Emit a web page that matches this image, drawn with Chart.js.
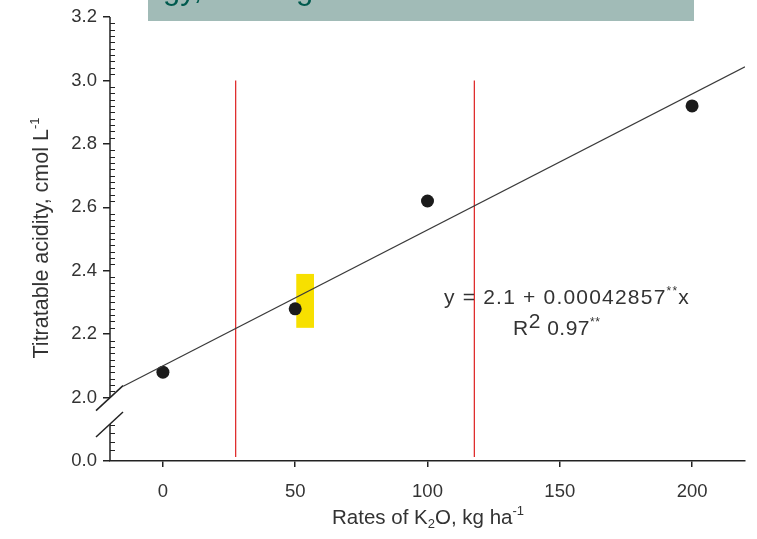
<!DOCTYPE html>
<html>
<head>
<meta charset="utf-8">
<script src="https://cdn.jsdelivr.net/npm/chart.js@4"></script>
<style>
  body { margin: 0; background: #fff; }
  #wrap { width: 757px; height: 539px; position: relative; }
</style>
</head>
<body>
<div id="wrap"><canvas id="acidChart"></canvas></div>
<script>
// data
const rates = [0, 50, 100, 200];              // K2O, kg/ha
const acidity = [2.08, 2.28, 2.62, 2.92];     // cmol/L
const fitX = [-15, 220];                      // regression line ends
const fitY = [2.036, 3.043];
const redLineX = [27.5, 117.7];
const redLineY = [1.813, 3.0];
const highlightX = [50.4, 57.1];
const highlightY = [2.22, 2.39];
const xTicks = [0, 50, 100, 150, 200];
const yTicks = [1.8, 2.0, 2.2, 2.4, 2.6, 2.8, 3.0, 3.2];
const yTickLabels = ['0.0', '2.0', '2.2', '2.4', '2.6', '2.8', '3.0', '3.2'];
const lowerMinorTicks = [1.835, 1.861, 1.887, 1.913];

const FONT = '"Liberation Sans", Arial, sans-serif';
const AXIS = '#222';
const TEXT = '#333';

// draw a run of text pieces: [text, size, dy]
function drawRun(ctx, x, y, parts, align) {
    let total = 0;
    parts.forEach(p => { ctx.font = p[1] + 'px ' + FONT; total += ctx.measureText(p[0]).width; });
    let cx = x;
    if (align === 'center') cx = x - total / 2;
    parts.forEach(p => {
        ctx.font = p[1] + 'px ' + FONT;
        ctx.fillText(p[0], cx, y + p[2]);
        cx += ctx.measureText(p[0]).width;
    });
}

const decor = {
    id: 'decor',
    beforeDraw(chart) {
        const ctx = chart.ctx;
        ctx.save();
        ctx.fillStyle = '#fff';
        ctx.fillRect(0, 0, chart.width, chart.height);
        // slide banner cut off at the top
        ctx.fillStyle = '#a1bbb7';
        ctx.fillRect(148, 0, 546, 21);
        ctx.fillStyle = '#005a4e';
        ctx.font = '31px ' + FONT;
        ctx.textBaseline = 'alphabetic';
        ctx.fillText('gy,', 163, -1);
        ctx.fillText('g', 296, -1);
        ctx.restore();
    },
    beforeDatasetsDraw(chart) {
        const { ctx, scales: { x, y } } = chart;
        ctx.save();
        ctx.fillStyle = '#f7e000';
        const x0 = x.getPixelForValue(highlightX[0]), x1 = x.getPixelForValue(highlightX[1]);
        const y0 = y.getPixelForValue(highlightY[1]), y1 = y.getPixelForValue(highlightY[0]);
        ctx.fillRect(x0, y0, x1 - x0, y1 - y0);
        ctx.restore();
    },
    afterDraw(chart) {
        const { ctx, scales: { x, y } } = chart;
        const ax = x.left;
        ctx.save();
        ctx.strokeStyle = AXIS;
        ctx.lineWidth = 1.5;
        // broken y axis
        const breakTop = y.getPixelForValue(2.0);
        const breakBot = y.getPixelForValue(1.9165);
        ctx.beginPath();
        ctx.moveTo(ax, y.top); ctx.lineTo(ax, breakTop);
        ctx.moveTo(ax, breakBot); ctx.lineTo(ax, y.bottom);
        ctx.stroke();
        // break slashes
        [breakTop, breakBot].forEach(py => {
            ctx.beginPath();
            ctx.moveTo(ax - 14, py + 13);
            ctx.lineTo(ax + 13, py - 12);
            ctx.stroke();
        });
        // inner minor ticks
        ctx.lineWidth = 1.2;
        ctx.beginPath();
        for (let v = 2.02; v < 3.19; v += 0.02) {
            if (Math.abs(v * 5 - Math.round(v * 5)) < 1e-6) continue;
            const py = Math.round(y.getPixelForValue(v)) + 0.5;
            ctx.moveTo(ax, py); ctx.lineTo(ax + 5, py);
        }
        lowerMinorTicks.forEach(v => {
            const py = Math.round(y.getPixelForValue(v)) + 0.5;
            ctx.moveTo(ax, py); ctx.lineTo(ax + 5, py);
        });
        ctx.stroke();

        // equation
        ctx.fillStyle = TEXT;
        ctx.textBaseline = 'alphabetic';
        ctx.letterSpacing = '1.2px';
        drawRun(ctx, 444, 304, [['y = 2.1 + 0.00042857', 21, 0], ['**', 12, -9], ['x', 21, 0]], 'left');
        ctx.letterSpacing = '0.5px';
        drawRun(ctx, 513, 335, [['R', 21, 0], ['2', 21, -7], [' 0.97', 21, 0], ['**', 12, -9]], 'left');
        ctx.letterSpacing = '0px';

        // axis titles
        drawRun(ctx, 428, 524, [['Rates of K', 20.5, 0], ['2', 13, 4], ['O, kg ha', 20.5, 0], ['-1', 13, -9]], 'center');
        ctx.translate(48, 238);
        ctx.rotate(-Math.PI / 2);
        drawRun(ctx, 0, 0, [['Titratable acidity, cmol L', 21.5, 0], ['-1', 13, -9]], 'center');
        ctx.restore();
    }
};

new Chart(document.getElementById('acidChart'), {
    type: 'scatter',
    data: {
        datasets: [
            {
                type: 'line',
                data: fitX.map((v, i) => ({ x: v, y: fitY[i] })),
                borderColor: '#3a3a3a',
                borderWidth: 1.2,
                pointRadius: 0
            },
            ...redLineX.map(rx => ({
                type: 'line',
                data: redLineY.map(ry => ({ x: rx, y: ry })),
                borderColor: '#dd1f1f',
                borderWidth: 1.2,
                pointRadius: 0
            })),
            {
                data: rates.map((v, i) => ({ x: v, y: acidity[i] })),
                backgroundColor: '#1b1b1b',
                borderWidth: 0,
                pointRadius: 6.5
            }
        ]
    },
    options: {
        responsive: true,
        maintainAspectRatio: false,
        animation: false,
        layout: { padding: { left: 0, right: 12, top: 17, bottom: 0 } },
        plugins: { legend: { display: false }, tooltip: { enabled: false } },
        scales: {
            x: {
                type: 'linear',
                min: -20,
                max: 220,
                afterBuildTicks: s => { s.ticks = xTicks.map(v => ({ value: v })); },
                afterFit: s => { s.height = 78; },
                grid: { drawOnChartArea: false, drawTicks: true, tickLength: 6, color: AXIS, lineWidth: 1.5 },
                border: { display: true, color: AXIS, width: 1.5 },
                ticks: { color: TEXT, font: { family: FONT, size: 18.5 }, padding: 14, maxRotation: 0 }
            },
            y: {
                type: 'linear',
                min: 1.8,
                max: 3.2,
                afterBuildTicks: s => { s.ticks = yTicks.map(v => ({ value: v })); },
                afterFit: s => { s.width = 110; },
                grid: { drawOnChartArea: false, drawTicks: true, tickLength: 7, color: AXIS, lineWidth: 1.5 },
                border: { display: false },
                ticks: {
                    color: TEXT,
                    font: { family: FONT, size: 18.5 },
                    padding: 6,
                    callback: (v) => yTickLabels[yTicks.findIndex(t => Math.abs(t - v) < 1e-6)]
                }
            }
        }
    },
    plugins: [decor]
});
</script>
</body>
</html>
